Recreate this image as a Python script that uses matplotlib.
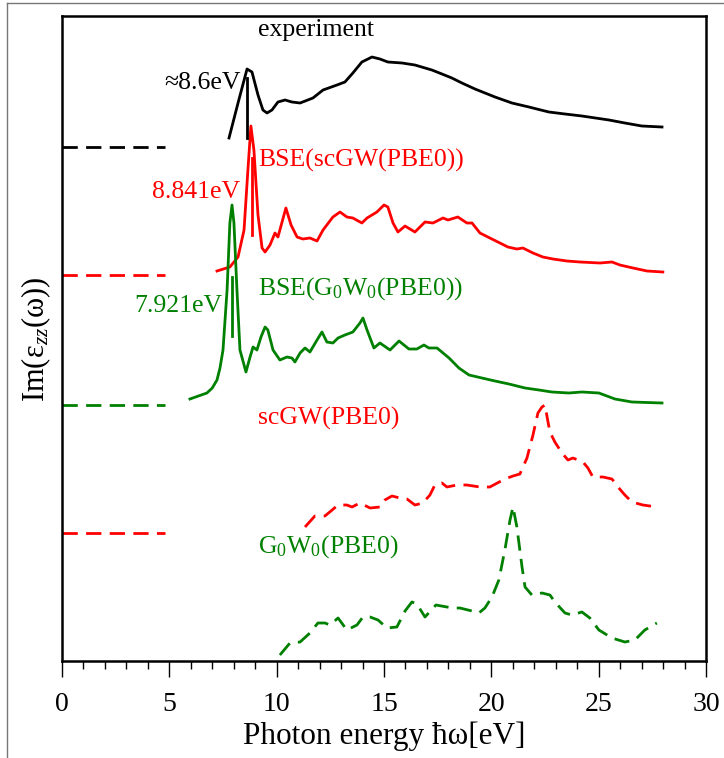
import matplotlib
matplotlib.use('Agg')
import matplotlib.pyplot as plt
from matplotlib.lines import Line2D
from matplotlib.ticker import MultipleLocator

plt.rcParams['font.family'] = ['Liberation Serif', 'DejaVu Serif']
plt.rcParams['mathtext.fontset'] = 'custom'
plt.rcParams['mathtext.rm'] = 'Liberation Serif'
plt.rcParams['mathtext.it'] = 'Liberation Serif:italic'

# spectra (energy in eV, intensity relative to own baseline)
exp_x = [7.78, 8.20, 8.62, 8.85, 9.13, 9.36, 9.55, 9.78, 10.06, 10.39, 10.71, 11.09,
         11.69, 12.16, 12.81, 13.18, 13.55, 13.97, 14.44, 14.81, 15.18, 15.84, 16.44,
         17.23, 17.70, 18.16, 18.63, 19.24, 20.17, 20.96, 21.75, 22.68, 23.43, 24.22,
         25.48, 26.22, 27.01, 27.95]
exp_y = [9, 44, 78, 75, 52, 37, 34, 37, 45, 47, 45, 44,
         49, 57, 62, 65, 74, 85, 90, 88, 85, 84, 82,
         77, 73, 69, 64, 58, 50, 44, 40, 35, 33, 31,
         27, 24, 21, 20]

bse_sc_x = [7.22, 7.82, 8.20, 8.48, 8.66, 8.80, 8.94, 9.13, 9.32, 9.46, 9.69, 9.92,
            10.06, 10.43, 10.67, 10.95, 11.22, 11.55, 11.88, 12.16, 12.62, 12.95, 13.27,
            13.55, 13.97, 14.21, 14.67, 15.00, 15.18, 15.42, 15.65, 15.98, 16.44, 16.91,
            17.28, 17.75, 17.98, 18.44, 18.86, 19.10, 19.47, 19.93, 20.40, 20.77, 21.19,
            21.47, 21.94, 22.40, 22.87, 23.52, 24.13, 25.06, 25.62, 25.99, 26.60, 27.25,
            27.99]
bse_sc_y = [4, 8, 18, 45, 105, 149, 125, 60, 27, 23, 30, 42,
            38, 67, 50, 38, 36, 37, 34, 45, 58, 63, 58,
            57, 52, 57, 63, 70, 68, 52, 43, 49, 43, 53,
            52, 57, 55, 58, 52, 52, 42, 37, 32, 28, 26,
            27, 22, 18, 16, 14, 13, 12, 13, 10, 7, 4,
            3]

bse_g0_x = [5.96, 6.75, 7.00, 7.22, 7.36, 7.50, 7.69, 7.82, 7.92, 8.01, 8.15, 8.29, 8.57,
            8.76, 8.90, 9.08, 9.27, 9.46, 9.59, 9.83, 10.15, 10.48, 10.71, 10.85, 11.09,
            11.32, 11.55, 11.88, 12.11, 12.34, 12.62, 12.86, 13.18, 13.55, 13.88, 14.02,
            14.21, 14.53, 14.81, 15.28, 15.70, 16.16, 16.53, 16.86, 17.09, 17.47, 18.03,
            18.49, 18.96, 19.56, 20.17, 20.82, 21.57, 22.22, 22.82, 23.61, 24.22, 25.01,
            25.76, 26.55, 27.95]
bse_g0_y = [6, 12, 17, 25, 37, 55, 115, 182, 200, 182, 115, 55, 33,
            48, 58, 55, 68, 78, 75, 55, 45, 48, 47, 43, 52,
            57, 53, 65, 73, 63, 62, 67, 70, 73, 82, 87,
            75, 57, 62, 55, 64, 56, 56, 60, 57, 57, 47,
            37, 30, 27, 24, 21, 17, 15, 13, 12, 13, 12,
            6, 3, 2]

scgw_x = [11.32, 11.78, 12.25, 12.86, 13.27, 13.51, 13.88, 14.35, 14.81, 15.04, 15.37,
          15.74, 16.07, 16.44, 16.81, 17.14, 17.37, 17.70, 17.93, 18.40, 18.86, 19.47,
          19.93, 20.63, 21.01, 21.33, 21.66, 21.94, 22.17, 22.36, 22.50, 22.64, 22.73,
          22.96, 23.29, 23.57, 23.80, 24.27, 24.50, 24.73, 25.20, 25.62, 25.90, 26.22,
          26.55, 27.06, 27.71]
scgw_y = [6, 17, 17, 28, 28, 26, 30, 25, 26, 33, 37,
          35, 34, 28, 30, 38, 48, 50, 46, 48, 48, 46,
          46, 54, 57, 59, 75, 98, 120, 126, 128, 111, 101,
          91, 80, 73, 75, 71, 65, 56, 56, 54, 46, 38,
          31, 28, 26]

g0w0_x = [10.15, 10.62, 11.09, 11.55, 11.92, 12.25, 12.48, 12.86, 13.27, 13.74, 14.02,
          14.35, 14.72, 15.14, 15.60, 15.98, 16.30, 16.53, 16.91, 17.42, 17.93, 18.21,
          18.54, 19.10, 19.42, 19.70, 20.03, 20.35, 20.63, 20.87, 21.01, 21.19, 21.43,
          21.57, 21.89, 22.36, 22.73, 22.96, 23.43, 23.75, 24.22, 24.59, 25.01, 25.62,
          26.22, 26.69, 27.15, 27.71]
g0w0_y = [6, 18, 19, 28, 38, 38, 36, 43, 31, 36, 44,
          44, 41, 33, 34, 50, 59, 57, 44, 56, 54, 53,
          53, 50, 48, 53, 64, 81, 111, 141, 154, 134, 94,
          74, 66, 68, 66, 59, 48, 46, 49, 43, 31, 23,
          19, 21, 31, 38]

offsets = [514, 386, 256, 128, 0]
peaks = [8.6, 8.841, 7.921]
peak_marks = [(9, 69), (40, 117), (69, 128)]

fig = plt.figure(figsize=(7.24, 7.58), dpi=100)
ax = fig.add_axes([62/724, 1 - 661/758, 644/724, 645/758])

red = '#ff0000'
green = '#008000'
dash = (5.5, 3)
lw = 2.0

curves = [
    (exp_x, exp_y, 'black', False),
    (bse_sc_x, bse_sc_y, red, False),
    (bse_g0_x, bse_g0_y, green, False),
    (scgw_x, scgw_y, red, True),
    (g0w0_x, g0w0_y, green, True),
]
for (xs, ys, c, dashed), off in zip(curves, offsets):
    yy = [v + off for v in ys]
    if dashed:
        ax.plot(xs, yy, color=c, lw=lw, dashes=dash, dash_joinstyle='round')
    else:
        ax.plot(xs, yy, color=c, lw=lw, solid_joinstyle='round')

# baseline stubs
for c, off in zip(['black', red, green, red], offsets[:4]):
    ax.plot([0, 4.8], [off, off], color=c, lw=lw, dashes=dash)

# peak markers
for e, (a, b), c, off in zip(peaks, peak_marks, ['black', red, green], offsets[:3]):
    ax.plot([e, e], [off + a, off + b], color=c, lw=lw)

fs = 18.5
ax.text(9.13, 625, 'experiment', fontsize=fs, color='black', va='baseline')
ax.text(8.34, 572, '≈8.6eV', fontsize=fs, color='black', ha='right', va='baseline')
ax.text(9.13, 494, 'BSE(scGW(PBE0))', fontsize=fs, color=red, va='baseline')
ax.text(8.29, 463, '8.841eV', fontsize=fs, color=red, ha='right', va='baseline')
ax.text(9.13, 366, 'BSE(G$_0$W$_0$(PBE0))', fontsize=fs, color=green, va='baseline')
ax.text(7.45, 349, '7.921eV', fontsize=fs, color=green, ha='right', va='baseline')
ax.text(9.13, 236, 'scGW(PBE0)', fontsize=fs, color=red, va='baseline')
ax.text(9.13, 108, 'G$_0$W$_0$(PBE0)', fontsize=fs, color=green, va='baseline')

ax.set_xlim(0, 30)
ax.set_ylim(0, 645)
ax.xaxis.set_major_locator(MultipleLocator(5))
ax.xaxis.set_minor_locator(MultipleLocator(1))
ax.set_yticks([])
ax.tick_params(axis='x', which='major', direction='out', length=11.5, width=1.0,
               labelsize=20, pad=11)
ax.tick_params(axis='x', which='minor', direction='out', length=6, width=1.0)
for s in ax.spines.values():
    s.set_linewidth(1.8)

ax.set_xlabel('Photon energy ħω[eV]', fontsize=22.5, labelpad=3)
fig.text(36/724, 1 - 339/758, 'Im(ε$_{zz}$(ω))', fontsize=22, rotation=90,
         ha='center', va='center')

# outer frame remnants
fig.add_artist(Line2D([7/724, 7/724], [0, 1 - 3/758], color='#777777', lw=1.0))
fig.add_artist(Line2D([7/724, 1], [1 - 3/758, 1 - 3/758], color='#777777', lw=1.0))

fig.savefig('out.png', dpi=100)
